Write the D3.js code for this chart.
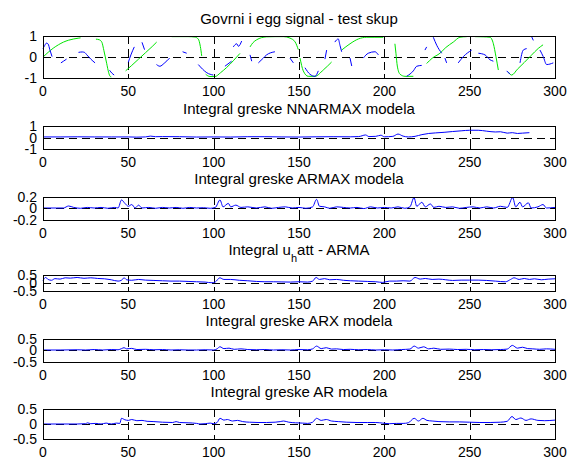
<!DOCTYPE html>
<meta charset="utf-8">
<style>
body { margin: 0; background: #fff; }
svg { font-family: "Liberation Sans", Arial, sans-serif; }
.frame { fill: none; stroke: #000; stroke-width: 1; shape-rendering: crispEdges; }
.grid { stroke: #000; stroke-width: 1; stroke-dasharray: 8,5; shape-rendering: crispEdges; }
.tick { stroke: #000; stroke-width: 1; shape-rendering: crispEdges; }
.lbl { font-size: 14px; fill: #000; }
.title { font-size: 15px; fill: #000; text-anchor: middle; }
.line { fill: none; stroke-width: 1; }
</style>
<svg width="585" height="459"></svg>
<script src="https://d3js.org/d3.v7.min.js"></script>
<script>

// ---- data ----
var xTicks = [0, 50, 100, 150, 200, 250, 300];
var yTicksBig = [-1, 0, 1];
var yTicksSmall = [-0.2, 0, 0.2];
var yTicksHalf = [-0.5, 0, 0.5];

var titles = [
  "Govrni i egg signal - test skup",
  "Integral greske NNARMAX modela",
  "Integral greske ARMAX modela",
  "Integral u|h|att - ARMA",
  "Integral greske ARX modela",
  "Integral greske AR modela"
];

// egg signal (green), null = gap in the drawn line
var eggX = [0,3,6,9,12,15,18,21,22, 26,
  31,33,34.5,35.7,37.3,38.5,39.3,40, 44,
  48.4,52,56,60,64,66.6, 71,
  75.4,80,85,89,91,92.2,93, 94,
  95.3,97.8,100.8,104,107.6,111.5,115.4, 118,
  121.3,123,125.2,128,131,136,141,144.7,147.7,149.6, 150,
  150.6,152.5,155.4,159.4,164.2,169.1, 172,
  175,179.9,184.8,189.7,194,199.4, 203,
  206.2,206.8,207.6,209.2,212.1,217, 221,
  224.8,228,232.6,236,240.4,244.3,248.3, 251,
  253.1,258,261.9,263.9,265.4,266.8, 270,
  272.6,274.6,278,282,286,290.2,293];
var eggY = [0,0.22,0.42,0.58,0.71,0.8,0.86,0.9,0.91, null,
  0.85,0.82,0.7,0.3,-0.3,-0.75,-0.92,-0.95, null,
  -0.66,-0.4,-0.1,0.2,0.5,0.71, null,
  0.97,0.97,0.97,0.95,0.85,0.5,0.05, null,
  -0.82,-0.93,-0.93,-0.75,-0.5,-0.18,0.17, null,
  0.48,0.68,0.82,0.92,0.96,0.97,0.97,0.9,0.72,0.35, null,
  -0.05,-0.66,-0.92,-0.92,-0.62,-0.24, null,
  0.33,0.63,0.86,0.94,0.94,0.94, null,
  0.63,0.18,-0.43,-0.82,-0.92,-0.92, null,
  -0.31,-0.06,0.18,0.45,0.71,0.94,0.97, null,
  0.97,0.96,0.94,0.63,0.02,-0.62, null,
  -0.71,-0.86,-0.58,-0.26,0.07,0.41,0.58];

// measured signal (blue), null = gap
var sigX = [0,1,2,3,4,5.3, 8,
  10.5,12,13.8, 17,
  20.8,23,24.3,25.7,28,30.5, 35,
  39,40.5,41.7, 45,
  50,51.5,53.5, 56,
  58,59.5, 62,
  66.5,68.5,71,74.2, 78,
  81.8,84.2, 88,
  91,93.5,96,99.8, 103,
  106.6,110.5, 111,
  111.5,113.5,114.5,116.4, 119,
  121.3,122.3, 124,
  126.2,129.1,131,135.9, 140,
  144.7,146.7, 150,
  153.5,156.4,159.4,161.3, 163,
  165.2,166.2, 168,
  171,173,174,175, 178,
  179.9,180.9, 184,
  187.7,190.6,194.5,196.5, 205,
  213.1,217,219,221.9, 223,
  223.8,224.8, 227,
  228.7,230.7,233.6, 235,
  235.5,236.5, 240,
  243.3,246.3,251.2, 253,
  255.1,259,261.9,263.9, 268,
  271.7,273.6, 277,
  279.5,281.4,283.4, 285,
  286.3,287.3, 289,
  291.2,293.1,295.1,299];
var sigY = [0.4,0.55,0.66,0.62,0.35,0.02, null,
  -0.28,-0.2,-0.1, null,
  0.22,0.24,0.22,0.1,-0.1,-0.28, null,
  -0.63,-0.78,-0.86, null,
  -0.25,0.1,0.48, null,
  0.7,0.35, null,
  -0.36,-0.44,-0.3,-0.05, null,
  0.25,0.18, null,
  -0.36,-0.58,-0.75,-0.86, null,
  -0.44,-0.2, null,
  0.48,0.63,0.51,0.76, null,
  0.1,-0.2, null,
  -0.28,-0.05,0.1,0.25, null,
  -0.05,-0.28, null,
  -0.51,-0.82,-0.92,-0.66, null,
  -0.1,0.33, null,
  0.71,0.86,0.56,0.25, null,
  -0.05,-0.43, null,
  -0.05,0.18,0.25,0.1, null,
  -0.92,-0.66,-0.44,-0.4, null,
  0.33,0.48, null,
  0.94,0.56,0.18, null,
  -0.05,-0.28, null,
  -0.28,0.02,0.33, null,
  0.18,0.1,-0.13,-0.2, null,
  -0.66,-0.82, null,
  -0.28,0.33,0.4, null,
  0.97,0.79, null,
  0.33,0.02,-0.36,-0.28];

// integral of error, NNARMAX
var nnarmaxX = [0,10,20,30,40,50,55,60,63,66,70,80,90,100,110,120,130,140,150,160,170,180,185,189,191,195,198,200,205,208,211,214,218,222,226,230,235,240,245,250,255,260,265,268,272,275,278,281,285];
var nnarmaxY = [0.05,0.05,0.06,0.05,0.05,0.05,0.03,0.05,0.12,0.07,0.08,0.07,0.04,0.05,0.04,0.07,0.07,0.05,0.04,0.06,0.07,0.06,0.08,0.22,0.08,0.1,0.2,0.06,0.1,0.3,0.12,0.05,0.1,0.25,0.35,0.4,0.45,0.52,0.58,0.63,0.63,0.55,0.48,0.5,0.38,0.42,0.35,0.38,0.42];

// integral of error, ARMAX
var armaxX = [0,8,12,15,18,22,26,30,34,38,42,44,46,48,50,52,54,56,58,62,66,70,74,78,82,86,90,94,98,101,103.7,105.5,108.6,110,113,116,120,125,130,134,138,142,146,150,154,158,160.3,162,165,168,172,176,180,184,188,192,196,200,204,208,212,215,217.4,219,222,224,227,229,232,236,240,244,248,252,256,260,264,268,272,275.2,277,279.5,281,284.4,286,290,293,295,300];
var armaxY = [0,0,0,0.035,0.01,-0.005,0.01,0,0.01,-0.005,0.01,0,0.14,0.08,0.03,0.06,0,0.05,0,0.01,-0.005,0.01,0,0.01,-0.005,0.01,0,0.005,-0.005,0.01,0.14,0.02,0.08,0.02,0.05,0.01,0.02,0,0.02,-0.005,0.01,0.02,0,0.01,-0.005,0.02,0.15,0.03,0.02,-0.005,0.02,0.01,0,0.01,-0.01,0.02,0,0.01,0,0.02,-0.005,0.02,0.18,0.03,0.1,0.02,0.07,0.01,0.03,0.01,0.02,-0.005,0.01,0.02,0,0.02,0,0.03,0.01,0.18,0.02,0.1,0.02,0.09,0,0.02,0.06,0,0.01];

// integral of u_h att, ARMA
var armaX = [0,1.5,3,5,7,10,13,16,20,24,28,32,36,40,44,46,47.5,49,52,56,60,65,70,75,80,85,90,95,99,101,103.6,106,110,115,120,125,130,135,140,145,150,155,158,160,162,165,168,172,176,180,185,190,195,199,203,207,211,215,218,221,224,228,232,236,240,245,250,255,260,265,271,274,276,279,282,285,288,292,296,300];
var armaY = [0.12,0.32,0.2,0.15,0.25,0.22,0.3,0.28,0.32,0.27,0.3,0.26,0.24,0.18,0.1,0.15,0.3,0.18,0.15,0.2,0.16,0.14,0.12,0.1,0.1,0.08,0.06,0.04,0,0.05,0.3,0.2,0.2,0.15,0.12,0.08,0.06,0.06,0.05,0.04,0.06,0.04,0.1,0.32,0.2,0.25,0.18,0.2,0.15,0.12,0.1,0.08,0.06,0.02,0.1,0.1,0.12,0.1,0.32,0.22,0.26,0.2,0.22,0.18,0.14,0.16,0.16,0.16,0.14,0.1,0.06,0.2,0.3,0.2,0.26,0.2,0.24,0.18,0.22,0.24];

// integral of error, ARX
var arxX = [0,10,20,25,30,35,40,44,46,47.5,49,52,55,60,65,70,75,80,85,90,95,100,102,103.7,106,109,112,116,120,125,130,135,140,145,150,155,158,160.3,163,166,169,172,176,180,185,190,195,200,205,210,215,217.5,220,223,226,229,233,238,243,248,253,258,263,268,272,275,278,281,284,287,291,295,300];
var arxY = [0,0,0.01,0,0.02,0,0.02,0.01,0.06,0.1,0.05,0.07,0.02,0.03,0.01,0.02,0,0.01,0,0,0.01,0,0.05,0.14,0.06,0.08,0.03,0.05,0.02,0.01,0.02,0,0.01,0,0.02,0.01,0.05,0.17,0.06,0.1,0.04,0.05,0.02,0.03,0.01,0.02,0,0.01,0,0.02,0.04,0.17,0.08,0.14,0.05,0.08,0.03,0.04,0.02,0.03,0.01,0.02,0.01,0.02,0.04,0.2,0.08,0.12,0.06,0.05,0.03,0.05,0.03];

// integral of error, AR
var arX = [0,10,20,25,26,28,31,34,37,40,43,45,46,48,50,52,55,58,61,65,70,76,78,80,85,90,92,95,98,100,102,103.7,106,108,111,114,117,121,126,131,136,139,141,144,148,152,155,158,160.3,163,166,169,173,178,184,190,195,199,203,207,211,214,217.5,220,222.6,225,228,232,238,244,250,256,262,268,272,274.8,277,280,283,286,290,294,300];
var arY = [0,0,0,0.01,0.04,0.01,0.02,0,0.03,0,0.03,0.02,0.19,0.14,0.12,0.15,0.11,0.12,0.09,0.08,0.06,0.05,0.08,0.05,0.04,0.02,0,0.01,0.03,0.01,0.05,0.19,0.13,0.15,0.1,0.12,0.08,0.06,0.05,0.05,0.06,0.08,0.1,0.06,0.04,0.03,0.02,0.06,0.19,0.12,0.15,0.1,0.08,0.06,0.05,0.05,0.05,0.03,0.01,0.02,0.02,0.04,0.19,0.1,0.19,0.12,0.1,0.08,0.07,0.07,0.06,0.05,0.05,0.06,0.09,0.25,0.15,0.2,0.12,0.17,0.12,0.11,0.13];

// ---- layout ----
var svg = d3.select("svg");
var left = 43, right = 555;

var panels = [
  { top: 36,    bottom: 78,    dom: [-1, 1],     ticks: yTicksBig,
    series: [{ x: eggX, y: eggY, color: "#00e600" }, { x: sigX, y: sigY, color: "#0000ff" }] },
  { top: 126,   bottom: 149,   dom: [-1, 1],     ticks: yTicksBig,
    series: [{ x: nnarmaxX, y: nnarmaxY, color: "#0000ff" }] },
  { top: 196.5, bottom: 219.5, dom: [-0.2, 0.2], ticks: yTicksSmall,
    series: [{ x: armaxX, y: armaxY, color: "#0000ff" }] },
  { top: 274.5, bottom: 291,   dom: [-0.5, 0.5], ticks: yTicksHalf,
    series: [{ x: armaX, y: armaY, color: "#0000ff" }] },
  { top: 338.5, bottom: 361.5, dom: [-0.5, 0.5], ticks: yTicksHalf,
    series: [{ x: arxX, y: arxY, color: "#0000ff" }] },
  { top: 409,   bottom: 439,   dom: [-0.5, 0.5], ticks: yTicksHalf,
    series: [{ x: arX, y: arY, color: "#0000ff" }] }
];

var x = d3.scaleLinear().domain([0, 300]).range([left, right]);

panels.forEach(function(p, i) {
  var y = d3.scaleLinear().domain(p.dom).range([p.bottom, p.top]);
  var g = svg.append("g");

  // grid
  g.selectAll(".gx").data(xTicks.slice(1, -1)).enter().append("line")
    .attr("class", "grid")
    .attr("x1", function(d) { return Math.round(x(d)) + 0.5; })
    .attr("x2", function(d) { return Math.round(x(d)) + 0.5; })
    .attr("y1", p.top).attr("y2", p.bottom);
  g.selectAll(".gy").data(p.ticks.slice(1, -1)).enter().append("line")
    .attr("class", "grid")
    .attr("x1", left).attr("x2", right)
    .attr("y1", function(d) { return Math.round(y(d)) + 0.5; })
    .attr("y2", function(d) { return Math.round(y(d)) + 0.5; });

  // data
  p.series.forEach(function(s) {
    var pts = s.x.map(function(v, k) { return [v, s.y[k]]; });
    var line = d3.line()
      .defined(function(d) { return d[1] != null; })
      .x(function(d) { return x(d[0]); })
      .y(function(d) { return y(d[1]); })
      .curve(d3.curveMonotoneX);
    g.append("path").datum(pts)
      .attr("class", "line")
      .attr("stroke", s.color)
      .attr("d", line);
  });

  // ticks (inward, all four sides)
  xTicks.forEach(function(t) {
    var xx = Math.round(x(t)) + 0.5;
    g.append("line").attr("class", "tick").attr("x1", xx).attr("x2", xx).attr("y1", p.bottom).attr("y2", p.bottom - 4);
    g.append("line").attr("class", "tick").attr("x1", xx).attr("x2", xx).attr("y1", p.top).attr("y2", p.top + 4);
    g.append("text").attr("class", "lbl")
      .attr("x", x(t)).attr("y", p.bottom + 18)
      .attr("text-anchor", "middle")
      .text(t);
  });
  p.ticks.forEach(function(t) {
    var yy = Math.round(y(t)) + 0.5;
    g.append("line").attr("class", "tick").attr("x1", left).attr("x2", left + 4).attr("y1", yy).attr("y2", yy);
    g.append("line").attr("class", "tick").attr("x1", right).attr("x2", right - 4).attr("y1", yy).attr("y2", yy);
    g.append("text").attr("class", "lbl")
      .attr("x", 37).attr("y", y(t)).attr("dy", "0.36em")
      .attr("text-anchor", "end")
      .text(t);
  });

  g.append("rect").attr("class", "frame")
    .attr("x", left + 0.5).attr("y", Math.round(p.top) + 0.5)
    .attr("width", right - left).attr("height", Math.round(p.bottom) - Math.round(p.top));

  // title (text between |..| is a subscript)
  var parts = titles[i].split("|");
  var tt = g.append("text").attr("class", "title")
    .attr("x", (left + right) / 2)
    .attr("y", p.top - (parts.length > 1 ? 20 : 12.5));
  if (parts.length > 1) {
    tt.append("tspan").text(parts[0]);
    tt.append("tspan").attr("font-size", "11px").attr("dy", 7).text(parts[1]);
    tt.append("tspan").attr("dy", -7).text(parts[2]);
  } else {
    tt.text(parts[0]);
  }
});

</script>
